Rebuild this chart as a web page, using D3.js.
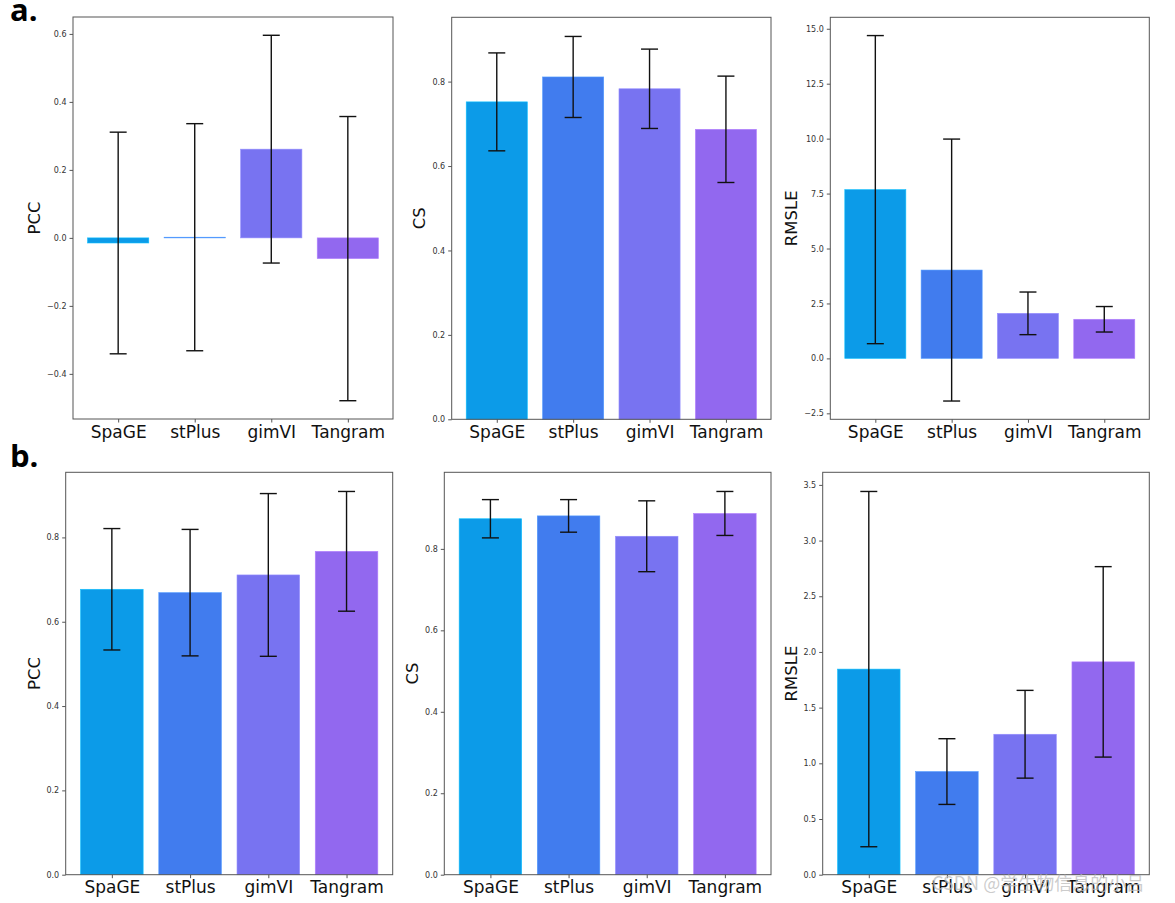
<!DOCTYPE html>
<html><head><meta charset="utf-8">
<script src="https://cdn.jsdelivr.net/npm/d3@7"></script>
<style>body{margin:0;background:#fff}svg{display:block}</style>
</head><body>
<svg id="c" width="1175" height="903"></svg>
<script>
// ---- data ----
const methods = ["SpaGE", "stPlus", "gimVI", "Tangram"];
const colors = ["#0c9be8", "#417cee", "#7873f1", "#9268ef"];

const aPCC = [-0.015, 0.002, 0.261, -0.061];
const aPCCErr = [0.326, 0.334, 0.335, 0.418];
const aCS = [0.752, 0.811, 0.783, 0.687];
const aCSErr = [0.116, 0.096, 0.094, 0.126];
const aRMSLE = [7.68, 4.02, 2.05, 1.78];
const aRMSLEErr = [7.01, 5.96, 0.97, 0.58];

const bPCC = [0.677, 0.669, 0.711, 0.767];
const bPCCErr = [0.144, 0.150, 0.193, 0.142];
const bCS = [0.874, 0.881, 0.831, 0.887];
const bCSErr = [0.047, 0.040, 0.087, 0.054];
const bRMSLE = [1.846, 0.926, 1.261, 1.911];
const bRMSLEErr = [1.595, 0.295, 0.394, 0.855];

const ticksAPCC = [-0.4, -0.2, 0.0, 0.2, 0.4, 0.6];
const ticksACS = [0.0, 0.2, 0.4, 0.6, 0.8];
const ticksARMSLE = [-2.5, 0.0, 2.5, 5.0, 7.5, 10.0, 12.5, 15.0];
const ticksBPCC = [0.0, 0.2, 0.4, 0.6, 0.8];
const ticksBCS = [0.0, 0.2, 0.4, 0.6, 0.8];
const ticksBRMSLE = [0.0, 0.5, 1.0, 1.5, 2.0, 2.5, 3.0, 3.5];

const panelLabels = ["a.", "b."];
const watermark = "CSDN @学生物信息的小吕";

// ---- layout ----
const panels = [
  {vals: aPCC, errs: aPCCErr, ticks: ticksAPCC, label: "PCC", box: [73, 17, 393, 419], lx: 34},
  {vals: aCS, errs: aCSErr, ticks: ticksACS, label: "CS", box: [451.7, 17.3, 771, 419.3], lx: 419},
  {vals: aRMSLE, errs: aRMSLEErr, ticks: ticksARMSLE, label: "RMSLE", box: [830.3, 17.3, 1149.3, 419.3], lx: 791},
  {vals: bPCC, errs: bPCCErr, ticks: ticksBPCC, label: "PCC", box: [65.7, 472.3, 392.7, 874.7], lx: 34},
  {vals: bCS, errs: bCSErr, ticks: ticksBCS, label: "CS", box: [444.3, 472.3, 771, 874.7], lx: 412},
  {vals: bRMSLE, errs: bRMSLEErr, ticks: ticksBRMSLE, label: "RMSLE", box: [822.7, 472.3, 1149.3, 874.7], lx: 791}
];

const svg = d3.select("#c");
const font = "'DejaVu Sans', sans-serif";

function domainOf(v, e) {
  let lo = d3.min(v, (d, i) => d - e[i]);
  let hi = d3.max(v, (d, i) => d + e[i]);
  lo = Math.min(0, lo); hi = Math.max(0, hi);
  const pad = 0.05 * (hi - lo);
  return [lo < 0 ? lo - pad : 0, hi > 0 ? hi + pad : 0];
}

panels.forEach(p => {
  const [x0, y0, x1, y1] = p.box;
  const x = d3.scaleLinear().domain([-0.59, methods.length - 1 + 0.59]).range([x0, x1]);
  const y = d3.scaleLinear().domain(domainOf(p.vals, p.errs)).range([y1, y0]);
  const bw = x(0.4) - x(0);
  const g = svg.append("g");

  g.selectAll("rect.bar").data(p.vals).join("rect")
    .attr("class", "bar")
    .attr("x", (d, i) => x(i) - bw)
    .attr("width", bw * 2)
    .attr("y", d => Math.min(y(d), y(0)))
    .attr("height", d => Math.abs(y(d) - y(0)))
    .attr("fill", (d, i) => colors[i])
    .attr("stroke", (d, i) => d3.color(colors[i]).brighter(0.6))
    .attr("stroke-width", 0.6);

  // error bars
  const eb = g.selectAll("g.eb").data(p.vals).join("g").attr("class", "eb")
    .attr("stroke", "#111").attr("stroke-width", 1.4);
  eb.append("line")
    .attr("x1", (d, i) => x(i)).attr("x2", (d, i) => x(i))
    .attr("y1", (d, i) => y(d - p.errs[i])).attr("y2", (d, i) => y(d + p.errs[i]));
  eb.append("line")
    .attr("x1", (d, i) => x(i) - 8.5).attr("x2", (d, i) => x(i) + 8.5)
    .attr("y1", (d, i) => y(d + p.errs[i])).attr("y2", (d, i) => y(d + p.errs[i]));
  eb.append("line")
    .attr("x1", (d, i) => x(i) - 8.5).attr("x2", (d, i) => x(i) + 8.5)
    .attr("y1", (d, i) => y(d - p.errs[i])).attr("y2", (d, i) => y(d - p.errs[i]));

  // y axis
  const ya = g.append("g").attr("transform", `translate(${x0},0)`)
    .call(d3.axisLeft(y).tickValues(p.ticks).tickSize(3.5).tickPadding(3)
      .tickFormat(d3.format(".1f")));
  ya.select(".domain").remove();
  ya.selectAll("line").attr("stroke", "#555");
  ya.selectAll("text").attr("font-family", font).attr("font-size", 8).attr("fill", "#333");

  // x axis
  const xa = g.append("g").attr("transform", `translate(0,${y1})`)
    .call(d3.axisBottom(x).tickValues(d3.range(methods.length)).tickSize(3.5).tickPadding(3)
      .tickFormat(i => methods[i]));
  xa.select(".domain").remove();
  xa.selectAll("line").attr("stroke", "#555");
  xa.selectAll("text").attr("font-family", font).attr("font-size", 17).attr("fill", "#111");

  // frame
  g.append("rect").attr("x", x0).attr("y", y0).attr("width", x1 - x0).attr("height", y1 - y0)
    .attr("fill", "none").attr("stroke", "#555").attr("stroke-width", 1);

  // y label
  g.append("text")
    .attr("transform", `translate(${p.lx},${(y0 + y1) / 2}) rotate(-90)`)
    .attr("text-anchor", "middle").attr("dominant-baseline", "central")
    .attr("font-family", font).attr("font-size", 16.5).attr("fill", "#111")
    .text(p.label);
});

// panel letters
svg.append("text").attr("x", 10).attr("y", 21).attr("font-family", "'Open Sans', sans-serif")
  .attr("font-weight", "bold").attr("font-size", 31).attr("fill", "#000").text(panelLabels[0]);
svg.append("text").attr("x", 10).attr("y", 467).attr("font-family", "'Open Sans', sans-serif")
  .attr("font-weight", "bold").attr("font-size", 31).attr("fill", "#000").text(panelLabels[1]);

// watermark
svg.append("text").attr("x", 932).attr("y", 890)
  .attr("font-family", "'Noto Sans CJK SC', 'Noto Sans', sans-serif")
  .attr("font-size", 18).attr("fill", "#bbbbbb").attr("fill-opacity", 0.75)
  .text(watermark);
</script>
</body></html>
